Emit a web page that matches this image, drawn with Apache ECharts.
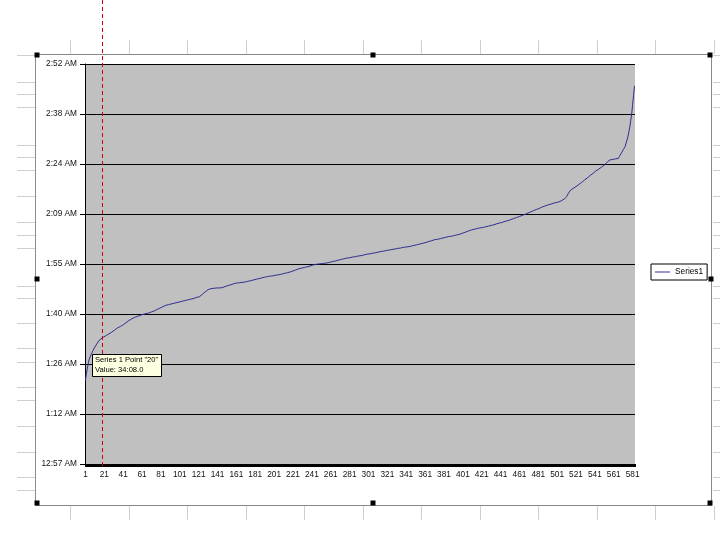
<!DOCTYPE html>
<html><head><meta charset="utf-8">
<script src="https://cdn.jsdelivr.net/npm/echarts@6/dist/echarts.min.js"></script>
<style>html,body{margin:0;padding:0;background:#fff}#c{width:720px;height:540px}</style>
</head><body><div id="c"></div>
<script>
// ---- data (values are minutes after midnight) ----
const seriesName = 'Series1';
const minutesValues = [
81.8,83.6,85.2,86.6,87.8,88.5,89.1,89.7,90.3,90.8,91.3,91.8,92.2,92.6,93.0,93.3,93.6,93.8,94.0,94.1333,
94.3,94.4,94.6,94.8,94.9,95.1,95.3,95.4,95.6,95.8,96.0,96.2,96.5,
96.7,96.8,97.0,97.1,97.2,97.3,97.5,97.7,97.9,98.1,98.3,98.5,
98.7,98.9,99.1,99.3,99.4,99.5,99.65,
99.8,99.9,100.0,100.1,100.2,100.3,100.4,100.5,100.6,100.7,100.8,
100.9,100.9,101.0,101.1,101.1,101.2,101.3,101.4,101.5,101.6,101.7,
101.8,101.9,102.1,102.2,102.4,102.5,102.6,102.8,102.9,103.0,103.1,103.3,103.4,
103.5,103.5,103.6,103.7,103.7,103.8,103.9,103.9,104.0,104.0,104.1,104.2,104.2,104.3,104.3,104.4,104.5,104.5,
104.6,104.7,104.7,104.8,104.9,105.0,105.0,105.1,105.2,105.3,105.3,105.4,
105.5,105.6,105.6,105.7,105.8,
106.0,106.3,106.5,106.8,107.0,107.2,
107.4,107.6,107.8,108.0,108.1,
108.1,108.2,108.2,108.2,108.3,108.3,108.3,108.3,108.3,108.3,108.4,108.4,108.4,
108.5,108.6,108.7,108.8,108.9,109.0,109.0,109.1,109.2,109.3,109.4,109.5,109.5,109.6,
109.7,109.7,109.8,109.8,109.8,109.9,109.9,110.0,110.0,110.0,110.1,110.1,110.2,110.2,110.3,
110.4,110.4,110.5,110.6,110.6,110.7,110.8,110.8,110.9,111.0,111.0,111.1,111.2,111.2,111.3,111.4,111.4,111.5,
111.6,111.6,111.7,111.7,111.7,111.8,111.8,111.9,111.9,112.0,112.0,112.1,112.1,112.2,
112.3,112.3,112.4,112.5,112.5,112.6,112.6,112.7,112.8,112.8,112.9,113.0,113.1,113.2,
113.3,113.4,113.5,113.6,113.7,113.8,113.9,
114.0,114.0,114.1,114.2,114.2,114.3,114.4,114.4,114.5,114.6,114.6,114.7,114.8,114.9,
115.0,115.0,115.1,115.1,115.1,115.2,115.2,115.2,115.3,115.3,115.4,115.4,115.4,115.5,115.5,115.6,115.6,
115.7,115.8,115.8,115.9,116.0,116.0,116.1,116.2,116.2,116.3,116.4,116.4,116.5,116.6,116.6,116.7,116.8,116.8,
116.9,116.9,117.0,117.0,117.1,117.1,117.2,117.2,117.3,117.3,117.4,117.4,117.5,117.5,117.6,117.6,117.7,117.8,
117.8,117.9,117.9,118.0,118.0,118.1,118.1,118.2,118.2,118.3,118.3,118.4,118.4,118.5,118.5,118.6,118.6,118.7,
118.8,118.8,118.9,118.9,119.0,119.0,119.1,119.1,119.2,119.2,119.3,119.3,119.4,119.4,119.5,119.5,119.6,119.7,
119.7,119.8,119.8,119.8,119.9,119.9,120.0,120.0,120.0,120.1,120.1,120.2,120.2,120.3,120.3,120.4,120.5,
120.5,120.6,120.7,120.8,120.8,120.9,121.0,121.0,121.1,121.2,121.2,121.3,121.4,121.4,121.5,121.6,121.7,121.8,
121.9,121.9,122.0,122.1,122.2,122.2,122.3,122.3,122.4,122.5,122.5,122.6,122.6,122.7,122.7,122.8,122.9,
122.9,123.0,123.1,123.1,123.2,123.2,123.3,123.4,123.4,123.5,123.5,123.6,123.7,123.7,
123.8,123.9,124.0,124.1,124.2,124.3,124.4,124.5,124.6,124.7,124.8,124.9,125.0,125.1,125.2,
125.2,125.3,125.3,125.4,125.4,125.5,125.6,125.6,125.7,125.7,125.8,125.9,125.9,126.0,126.0,126.1,126.2,126.2,126.3,126.3,126.4,
126.5,126.6,126.7,126.8,126.8,126.9,127.0,127.1,127.2,127.2,127.3,127.4,127.5,127.6,127.6,127.7,127.8,127.9,
128.0,128.1,128.2,128.3,128.4,128.5,128.6,128.7,128.8,128.9,129.0,129.1,129.2,129.3,129.4,129.5,129.7,129.8,
129.9,130.0,130.1,130.2,130.4,130.5,130.6,130.7,130.8,130.9,131.0,131.1,131.2,131.3,131.4,131.6,131.7,
131.8,131.9,132.0,132.1,132.2,132.3,132.3,132.4,132.5,132.6,132.7,132.7,132.8,132.9,133.0,133.1,133.1,
133.3,133.4,133.5,133.7,133.8,134.0,134.1,
134.6,135.1,135.6,136.0,136.4,136.7,136.9,137.0,137.1,
137.3,137.5,137.7,137.9,138.1,138.3,138.5,138.7,138.9,139.2,139.4,
139.6,139.8,140.0,140.3,140.5,140.7,140.9,141.1,141.3,141.6,141.8,
142.0,142.2,142.4,142.5,142.7,142.9,143.1,143.3,143.5,143.7,
144.0,144.2,144.5,144.7,145.0,145.2,
145.2,145.3,145.3,145.4,145.4,145.5,145.5,145.6,145.6,
146.2,146.6,147.1,
147.6,148.1,148.6,149.0,
150.0,150.9,151.9,
153.3,154.7,
156.6,158.4,
161.2,163.8,166.5
];
const categories = minutesValues.map((_, i) => String(i + 1));
const yTickLabels = ['12:57 AM','1:12 AM','1:26 AM','1:40 AM','1:55 AM','2:09 AM','2:24 AM','2:38 AM','2:52 AM'];
const yMinSec = 3456, yStepSec = 864, yMaxSec = 10368; // 0.04 .. 0.12 day
const hoverPointIndex = 19; // "Point 20"

const seconds = minutesValues.map(v => v * 60);
const FONT = '"Liberation Sans", Arial, sans-serif';

const chart = echarts.init(document.getElementById('c'), null, {renderer: 'canvas'});
chart.setOption({
  animation: false,
  backgroundColor: '#fff',
  grid: {left: 85, right: 85, top: 64, bottom: 76, show: true, backgroundColor: '#c0c0c0', borderWidth: 0},
  xAxis: {
    type: 'category', data: categories, boundaryGap: true,
    axisLine: {show: true, lineStyle: {color: '#000', width: 1}},
    axisTick: {show: true, interval: 0, length: 3, alignWithLabel: false, lineStyle: {color: '#000', width: 1}},
    axisLabel: {interval: 19, fontSize: 8.3, fontFamily: FONT, color: '#111', margin: 7},
    splitLine: {show: false}
  },
  yAxis: {
    type: 'value', min: yMinSec, max: yMaxSec, interval: yStepSec,
    axisLine: {show: true, lineStyle: {color: '#000', width: 1}},
    axisTick: {show: true, length: 5, lineStyle: {color: '#000'}},
    axisLabel: {
      fontSize: 8.3, fontFamily: FONT, color: '#111', margin: 8,
      formatter: v => yTickLabels[Math.round((v - yMinSec) / yStepSec)] || ''
    },
    splitLine: {show: true, lineStyle: {color: '#000', width: 1}}
  },
  legend: {
    data: [{name: seriesName, icon: 'rect'}], left: 651, top: 264, orient: 'vertical',
    itemWidth: 15, itemHeight: 1, itemGap: 0, padding: [4, 4, 4, 4],
    borderColor: '#000', borderWidth: 1, borderRadius: 0, backgroundColor: '#fff',
    textStyle: {fontSize: 8.3, fontFamily: FONT, color: '#000'}
  },
  series: [{
    name: seriesName, type: 'line', data: seconds, symbol: 'none', showSymbol: false,
    lineStyle: {color: '#2e2e90', width: 1}, itemStyle: {color: '#2e2e90'}
  }]
});

// ---- decorations: worksheet cell borders, chart frame, handles, cursor + tooltip ----
const g = [];
const sheet = '#cfcfcf';
const rowYs = [55, 82, 94, 107, 145, 157, 170, 196, 222, 235, 248, 286, 298, 323, 348, 362, 387, 400, 426, 452, 477, 490];
rowYs.forEach(y => {
  g.push({type: 'line', shape: {x1: 17, y1: y + 0.5, x2: 35, y2: y + 0.5}, style: {stroke: sheet, lineWidth: 1}, z: 0});
  g.push({type: 'line', shape: {x1: 713, y1: y + 0.5, x2: 720, y2: y + 0.5}, style: {stroke: sheet, lineWidth: 1}, z: 0});
});
for (let x = 70; x < 720; x += 58.5) {
  const xx = Math.round(x) + 0.5;
  g.push({type: 'line', shape: {x1: xx, y1: 40, x2: xx, y2: 54}, style: {stroke: sheet, lineWidth: 1}, z: 0});
  g.push({type: 'line', shape: {x1: xx, y1: 506, x2: xx, y2: 520}, style: {stroke: sheet, lineWidth: 1}, z: 0});
}
g.push({type: 'rect', shape: {x: 35.5, y: 54.5, width: 676, height: 451}, style: {fill: null, stroke: '#8a8a8a', lineWidth: 1}, z: 1});
[[37,55],[373,55],[710,55],[37,279],[711,279],[37,503],[373,503],[710,503]].forEach(([cx, cy]) => {
  g.push({type: 'rect', shape: {x: cx - 2.5, y: cy - 2.5, width: 5, height: 5}, style: {fill: '#000'}, z: 50});
});

const px = chart.convertToPixel({xAxisIndex: 0}, hoverPointIndex - 1);
const lx = Math.round(px) + 0.5;
g.push({type: 'line', shape: {x1: lx, y1: 0, x2: lx, y2: 469}, style: {stroke: '#d40000', lineWidth: 1, lineDash: [4, 3]}, z: 60});

const totalSec = Math.round(minutesValues[hoverPointIndex] * 60);
const mm = Math.floor(totalSec / 60) % 60, ss = totalSec % 60;
const valText = 'Value: ' + String(mm).padStart(2, '0') + ':' + String(ss).padStart(2, '0') + '.0';
const bx = Math.round(px) - 9.5, by = 354.5;
const TIPFONT = '7.6px ' + FONT;
g.push({type: 'rect', shape: {x: bx, y: by, width: 69, height: 22}, style: {fill: '#ffffe1', stroke: '#000', lineWidth: 1}, z: 70});
g.push({type: 'text', x: bx + 2.5, y: by + 1.5, style: {text: 'Series 1 Point "' + (hoverPointIndex + 1) + '"', font: TIPFONT, fill: '#000', textVerticalAlign: 'top'}, z: 71});
g.push({type: 'text', x: bx + 2.5, y: by + 11.5, style: {text: valText, font: TIPFONT, fill: '#000', textVerticalAlign: 'top'}, z: 71});

chart.setOption({graphic: g});
</script>
</body></html>
